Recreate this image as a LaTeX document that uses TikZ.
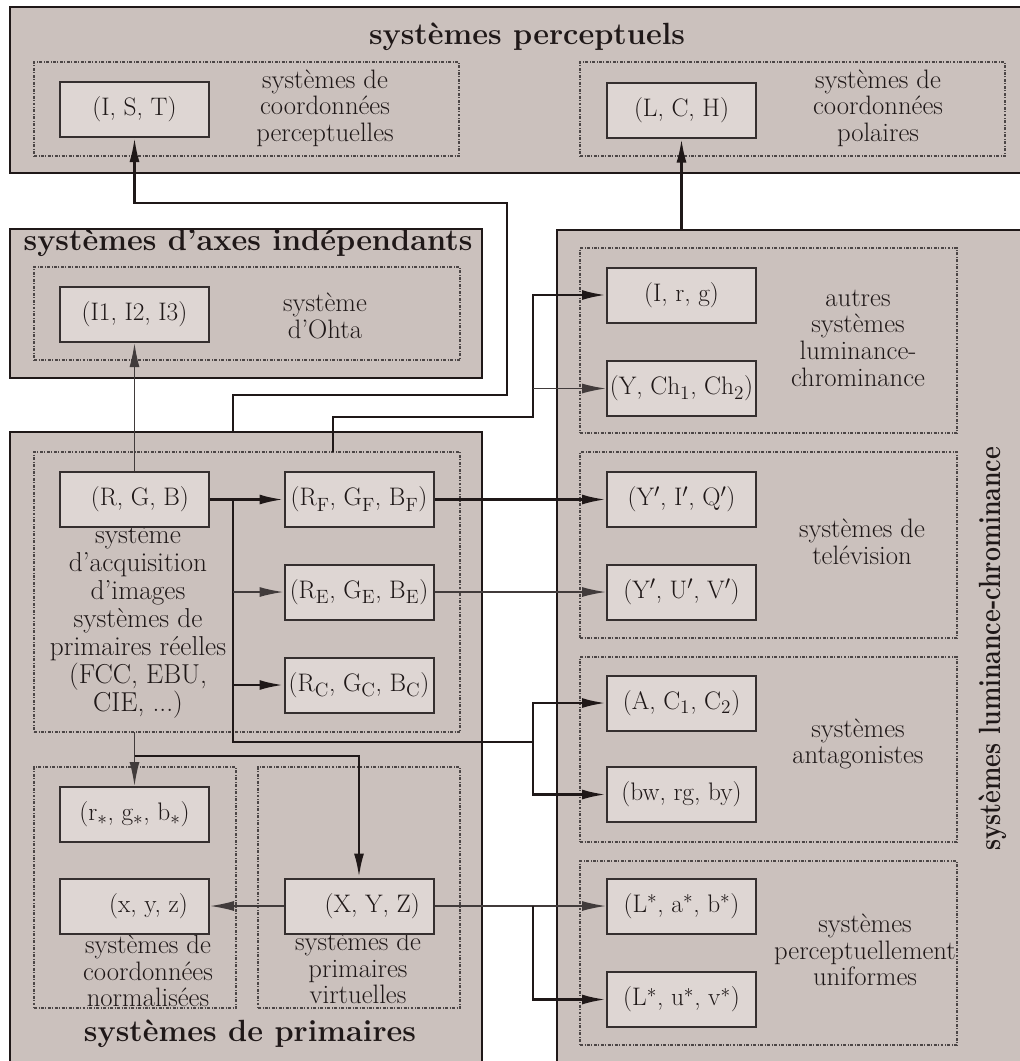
\documentclass[tikz,border=0pt]{standalone}
\usepackage{graphicx}
\usetikzlibrary{arrows.meta,fit}
\definecolor{boxfill}{HTML}{CBC1BD}
\definecolor{nodefill}{HTML}{DED6D3}
\definecolor{ink}{HTML}{1F1818}
\begin{document}
\begin{tikzpicture}[x=0.75pt,y=-0.75pt,
  outerbox/.style={draw=ink, line width=2pt, fill=boxfill, inner sep=0pt},
  dotbox/.style={draw=ink!80, line width=0.9pt, dash pattern=on 2.2pt off 1.2pt on 0.6pt off 1.2pt, inner sep=0pt},
  sysnode/.style={draw=ink!90, line width=1.5pt, fill=nodefill, minimum width=111.75pt, minimum height=41.25pt, inner sep=0pt, font=\fontsize{19}{19}\selectfont, text=ink},
  lbl/.style={align=center, font=\fontsize{20}{20}\selectfont, text=ink, inner sep=0pt},
  ttl/.style={font=\fontsize{23}{23}\selectfont\bfseries, text=ink, inner sep=0pt},
  thickc/.style={draw=ink, line width=2pt},
  medc/.style={draw=ink, line width=1.7pt},
  thinc/.style={draw=ink!85, line width=1.2pt},
  arr/.style={-{Latex[length=18pt,width=7.5pt]}},
]
\useasboundingbox (0,0) rectangle (1020,1061);
\fill[white] (0,0) rectangle (1020,1061);

% outer boxes
\node[outerbox, fit={(10,7)(1030,173)}] (perc) {};
\node[outerbox, fit={(10,229)(482,378)}] (axes) {};
\node[outerbox, fit={(10,432)(482,1080)}] (prim) {};
\node[outerbox, fit={(557,230)(1030,1080)}] (lum) {};

% dotted boxes
\node[dotbox, fit={(34,62)(459,156)}] (d1) {};
\node[dotbox, fit={(580,62)(1005,156)}] (d2) {};
\node[dotbox, fit={(34,267)(460,360)}] (d3) {};
\node[dotbox, fit={(34,452)(460,732)}] (d4) {};
\node[dotbox, fit={(34,767)(236,1008)}] (d5) {};
\node[dotbox, fit={(258,767)(460,1008)}] (d6) {};
\node[dotbox, fit={(580,248)(957,433)}] (d7) {};
\node[dotbox, fit={(580,452)(957,638)}] (d8) {};
\node[dotbox, fit={(580,657)(957,842)}] (d9) {};
\node[dotbox, fit={(580,861)(957,1045)}] (d10) {};

% titles
\node[ttl] (tperc) at (527,37) {systèmes perceptuels};
\node[ttl] (taxes) at (248,243) {systèmes d’axes indépendants};
\node[ttl] (tprim) at (250,1034) {systèmes de primaires};
\node[ttl, rotate=90] (tlum) at (993,649) {\scalebox{0.81}[1]{systèmes luminance-chrominance}};

% labels
\node[lbl] (l1) at (325,108) {systèmes de\\coordonnées\\perceptuelles};
\node[lbl] (l2) at (878,108) {systèmes de\\coordonnées\\polaires};
\node[lbl] (l3) at (325,316) {système\\d’Ohta};
\node[lbl, font=\fontsize{20.5}{21}\selectfont] (l4) at (138,621) {système\\d’acquisition\\d’images\\systèmes de\\primaires réelles\\(FCC, EBU,\\CIE, ...)};
\node[lbl] (l5) at (858,338) {autres\\systèmes\\luminance-\\chrominance};
\node[lbl] (l6) at (862,542) {systèmes de\\telévision};
\node[lbl] (l7) at (858,744) {systèmes\\antagonistes};
\node[lbl] (l8) at (865,950) {systèmes\\perceptuellement\\uniformes};
\node[lbl] (l9) at (148,971) {systèmes de\\coordonnées\\normalisées};
\node[lbl] (l10) at (358,968) {systèmes de\\primaires\\virtuelles};

% system nodes
\node[sysnode] (IST) at (134.5,109.5) {\makebox[0pt]{(I, S, T)}};
\node[sysnode] (LCH) at (681.5,110) {\makebox[0pt]{(L, C, H)}};
\node[sysnode] (III) at (134.5,314.5) {\makebox[0pt]{(I1, I2, I3)}};
\node[sysnode] (RGB) at (134.5,499.5) {\makebox[0pt]{\hspace*{8pt}(R, G, B)}};
\node[sysnode] (RF) at (359,499.5) {\makebox[0pt]{(R$_\mathrm{F}$, G$_\mathrm{F}$, B$_\mathrm{F}$)}};
\node[sysnode] (RE) at (359,592) {\makebox[0pt]{(R$_\mathrm{E}$, G$_\mathrm{E}$, B$_\mathrm{E}$)}};
\node[sysnode] (RC) at (359,685) {\makebox[0pt]{(R$_\mathrm{C}$, G$_\mathrm{C}$, B$_\mathrm{C}$)}};
\node[sysnode] (rgbs) at (134.5,814.5) {\makebox[0pt]{(r$_*$, g$_*$, b$_*$)}};
\node[sysnode] (xyz) at (134.5,906) {\makebox[0pt]{\hspace*{21pt}(x, y, z)}};
\node[sysnode] (XYZ) at (359,906) {\makebox[0pt]{\hspace*{20pt}(X, Y, Z)}};
\node[sysnode] (Irg) at (681.5,295) {\makebox[0pt]{(I, r, g)}};
\node[sysnode] (Ych) at (681.5,388.5) {\makebox[0pt]{(Y, Ch$_1$, Ch$_2$)}};
\node[sysnode] (YIQ) at (681.5,499.5) {\makebox[0pt]{(Y$'$, I$'$, Q$'$)}};
\node[sysnode] (YUV) at (681.5,592) {\makebox[0pt]{(Y$'$, U$'$, V$'$)}};
\node[sysnode] (AC) at (681.5,703) {\makebox[0pt]{(A, C$_1$, C$_2$)}};
\node[sysnode] (bw) at (681.5,794.5) {\makebox[0pt]{(bw, rg, by)}};
\node[sysnode] (Lab) at (681.5,906) {\makebox[0pt]{(L$^*$, a$^*$, b$^*$)}};
\node[sysnode] (Luv) at (681.5,999.5) {\makebox[0pt]{(L$^*$, u$^*$, v$^*$)}};

% junction coordinates
\coordinate (c1a) at (233,432);
\coordinate (c1b) at (507,395);
\coordinate (c1c) at (134.5,203);
\coordinate (c3a) at (333,452);
\coordinate (c3b) at (533,417);
\coordinate (c3c) at (533,388.5);
\coordinate (c6a) at (233,499.5);
\coordinate (c6b) at (233,742);
\coordinate (c6c) at (533,742);
\coordinate (c8a) at (533,906);
\coordinate (c10a) at (134.5,732);
\coordinate (c10b) at (134.5,756);

% connectors
\draw[medc, arr] (c1a) |- (c1b) |- (c1c) -- (IST.south);
\draw[thinc, arr] (RGB.north) -- (III.south);
\draw[thickc, arr] (c3a) |- (c3b) |- (Irg.west);
\draw[thinc, arr] (c3c) -- (Ych.west);
\draw[thickc, arr] (lum.north -| LCH.south) -- (LCH.south);
\draw[thickc, arr] (RGB.east) -- (RF.west);
\draw[thickc] (c6a) -- (c6b) -- (c6c);
\draw[thickc, arr] (c6c) |- (AC.west);
\draw[thickc, arr] (c6c) |- (bw.west);
\draw[thinc, arr] (RE.west -| c6a) -- (RE.west);
\draw[thickc, arr] (RC.west -| c6a) -- (RC.west);
\draw[thickc, arr] (RF.east) -- (YIQ.west);
\draw[thinc, arr] (RE.east) -- (YUV.west);
\draw[thinc, arr] (XYZ.east) -- (Lab.west);
\draw[thickc, arr] (c8a) |- (Luv.west);
\draw[thinc, arr] (XYZ.west) -- (xyz.east);
\draw[thinc, arr] (c10a) -- (rgbs.north);
\draw[thickc, arr] (c10b) -| (XYZ.north);
\end{tikzpicture}
\end{document}
